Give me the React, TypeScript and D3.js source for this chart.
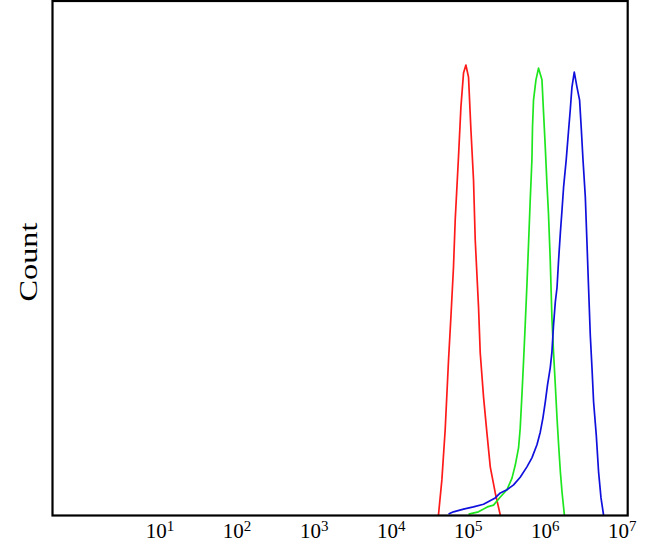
import React from "react";
import * as d3 from "d3";

// Fluorescence intensity (log scale) and counts for each histogram
const redX = [41100, 45500, 50200, 55500, 59600, 64400, 67800, 74800, 80400, 86900, 93300, 100900, 108400, 117200, 123300, 136100, 143200, 158100, 175000, 193200, 224400, 260600];
const redY = [0, 78, 189, 344, 440, 551, 656, 796, 907, 982, 1000, 973, 856, 744, 611, 462, 360, 262, 182, 107, 49, 0];

const greenX = [101000, 136000, 177000, 213000, 261000, 318000, 370000, 408000, 450000, 473000, 498000, 522000, 549000, 578000, 607000, 638000, 671000, 683000, 704000, 757000, 818000, 906000, 951000, 1000000, 1050000, 1100000, 1160000, 1220000, 1280000, 1350000, 1420000, 1490000, 1570000, 1650000, 1770000];
const greenY = [2, 7, 18, 22, 40, 56, 82, 111, 149, 193, 267, 340, 422, 511, 604, 700, 789, 862, 922, 967, 993, 967, 893, 818, 738, 671, 567, 438, 362, 289, 216, 156, 96, 51, 0];

const blueX = [55500, 64400, 86900, 117000, 158000, 224000, 261000, 318000, 388000, 473000, 578000, 671000, 780000, 861000, 933000, 1000000, 1070000, 1160000, 1220000, 1280000, 1350000, 1420000, 1490000, 1570000, 1650000, 1730000, 1870000, 2010000, 2110000, 2220000, 2380000, 2580000, 2790000, 2940000, 3090000, 3310000, 3480000, 3650000, 3840000, 4040000, 4240000, 4590000, 4920000, 5290000, 5710000];
const blueY = [2, 7, 13, 18, 24, 38, 49, 56, 67, 84, 107, 127, 156, 184, 216, 251, 289, 327, 362, 422, 473, 505, 567, 627, 678, 729, 789, 856, 900, 951, 984, 951, 922, 856, 789, 707, 604, 504, 400, 327, 251, 178, 96, 38, 0];

const tickExponents = [1, 2, 3, 4, 5, 6, 7];
const yLabel = "Count";

const W = 657;
const H = 555;
const left = 52.5;
const right = 627.7;
const top = 1;
const bottom = 515.5;

export default function App() {
  const x = d3.scaleLog().domain([Math.pow(10, -0.396), Math.pow(10, 7.07)]).range([left, right]);
  const y = d3.scaleLinear().domain([0, 1000]).range([515, 65]);
  const line = d3
    .line<[number, number]>()
    .x((d) => x(d[0]))
    .y((d) => y(d[1]))
    .curve(d3.curveLinear);

  const series = [
    { xs: redX, ys: redY, color: "#ff1a1a" },
    { xs: greenX, ys: greenY, color: "#1ee61e" },
    { xs: blueX, ys: blueY, color: "#1010dd" },
  ];

  return (
    <svg
      width={W}
      height={H}
      style={{ position: "absolute", left: 0, top: 0, background: "#fff" }}
      fontFamily="'Liberation Serif', serif"
    >
      <rect x={0} y={0} width={W} height={H} fill="#fff" />
      {series.map((s, i) => (
        <path
          key={i}
          d={line(s.xs.map((v, j) => [v, s.ys[j]] as [number, number])) || ""}
          fill="none"
          stroke={s.color}
          strokeWidth={1.7}
          strokeLinejoin="round"
        />
      ))}
      <rect
        x={left}
        y={top}
        width={right - left}
        height={bottom - top}
        fill="none"
        stroke="#000"
        strokeWidth={2.2}
      />
      {tickExponents.map((k) => (
        <text key={k} x={x(Math.pow(10, k))} y={538} textAnchor="middle" fontSize={21} fill="#000">
          10
          <tspan fontSize={15} dy={-7}>
            {k}
          </tspan>
        </text>
      ))}
      <text
        transform="translate(37,262) rotate(-90)"
        textAnchor="middle"
        fontSize={26}
        fill="#000"
        textLength={79}
        lengthAdjust="spacingAndGlyphs"
      >
        {yLabel}
      </text>
    </svg>
  );
}
